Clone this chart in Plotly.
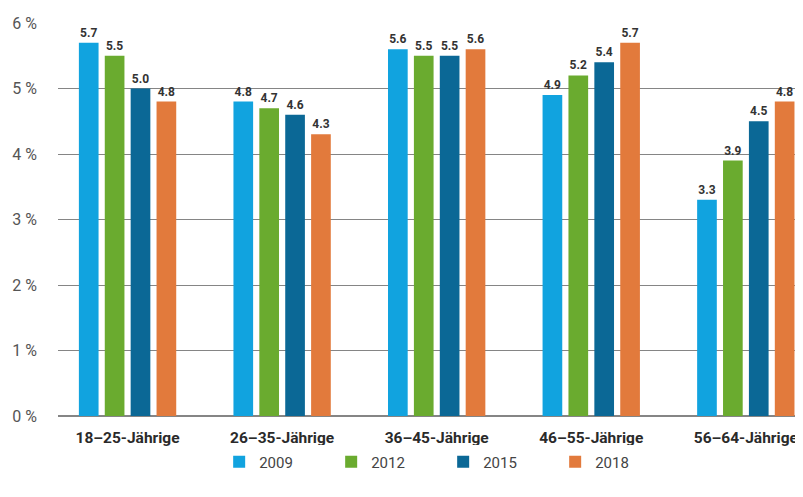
import plotly.graph_objects as go

categories = ["18–25-Jährige", "26–35-Jährige", "36–45-Jährige", "46–55-Jährige", "56–64-Jährige"]
years = ["2009", "2012", "2015", "2018"]
v2009 = [5.7, 4.8, 5.6, 4.9, 3.3]
v2012 = [5.5, 4.7, 5.5, 5.2, 3.9]
v2015 = [5.0, 4.6, 5.5, 5.4, 4.5]
v2018 = [4.8, 4.3, 5.6, 5.7, 4.8]
series = [v2009, v2012, v2015, v2018]
colors = ["#11a3df", "#6aab2f", "#0b6896", "#e27a3c"]
y_ticks = [0, 1, 2, 3, 4, 5, 6]
y_tick_labels = [f"{t} %" for t in y_ticks]

fig = go.Figure()
for name, vals, col in zip(years, series, colors):
    fig.add_trace(go.Bar(
        x=list(range(len(categories))), y=vals, name=name,
        marker=dict(color=col, line=dict(width=0)),
        text=[f"{v:.1f}" for v in vals], textposition="outside",
        textfont=dict(family="Roboto", size=12, color="#333333", weight="bold"),
        cliponaxis=False, constraintext="none",
    ))

fig.update_layout(
    width=795, height=489,
    margin=dict(l=50, r=0, t=15, b=81),
    paper_bgcolor="white", plot_bgcolor="white",
    barmode="group", bargap=0.33, bargroupgap=0.24,
    font=dict(family="Roboto", color="#444444"),
    xaxis=dict(
        range=[-0.45, 4.37], tickmode="array",
        tickvals=list(range(len(categories))), ticktext=categories,
        tickfont=dict(size=15.5, color="#2a2a2a", weight="bold"),
        showgrid=False, zeroline=False, showline=False, ticks="",
        ticklabelstandoff=10,
    ),
    yaxis=dict(
        range=[0, 6], tickmode="array", tickvals=y_ticks, ticktext=y_tick_labels,
        tickfont=dict(size=16, color="#555555"),
        showgrid=True, gridcolor="#858585", gridwidth=1.3,
        zeroline=True, zerolinecolor="#858585", zerolinewidth=1.6,
        ticklabelstandoff=20, ticks="",
    ),
    legend=dict(
        orientation="h", x=0.517, xanchor="center", y=-0.117, yanchor="middle",
        font=dict(size=15, color="#444444"), entrywidth=67, entrywidthmode="pixels",
        itemsizing="constant", traceorder="normal",
    ),
    showlegend=True,
)

fig.write_html("out.html")
